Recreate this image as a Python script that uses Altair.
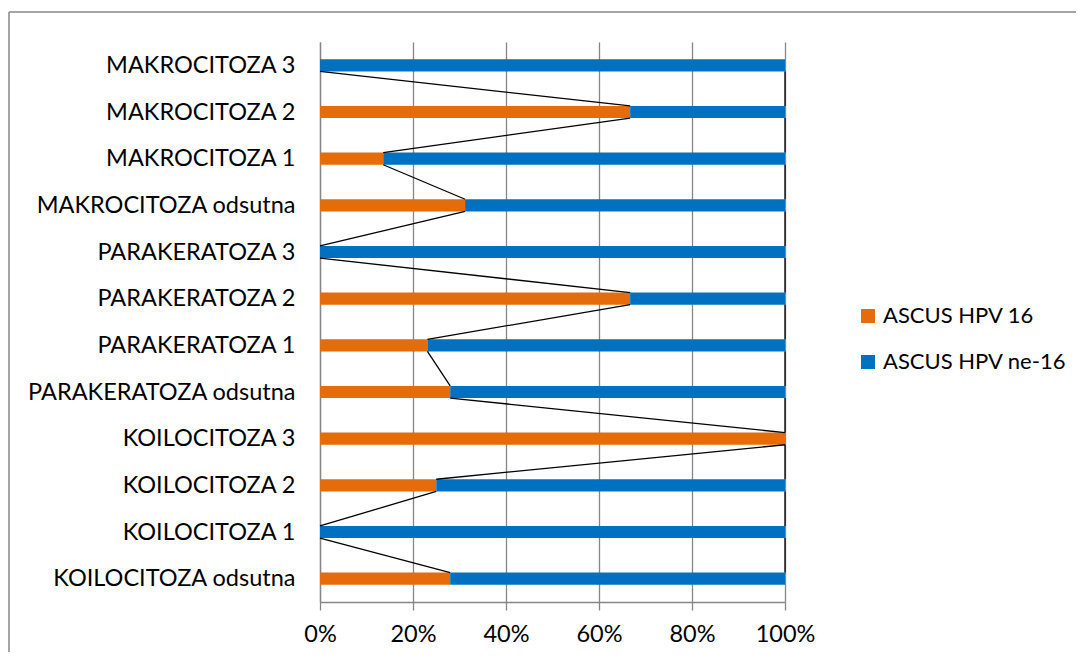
import json
import altair as alt
import pandas as pd

categories = [
    "KOILOCITOZA odsutna", "KOILOCITOZA 1", "KOILOCITOZA 2", "KOILOCITOZA 3",
    "PARAKERATOZA odsutna", "PARAKERATOZA 1", "PARAKERATOZA 2", "PARAKERATOZA 3",
    "MAKROCITOZA odsutna", "MAKROCITOZA 1", "MAKROCITOZA 2", "MAKROCITOZA 3",
]
hpv16 = [28.0, 0.0, 25.0, 100.0, 28.0, 23.1, 66.7, 0.0, 31.2, 13.6, 66.7, 0.0]
hpv_ne16 = [72.0, 100.0, 75.0, 0.0, 72.0, 76.9, 33.3, 100.0, 68.8, 86.4, 33.3, 100.0]
series_names = ["ASCUS HPV 16", "ASCUS HPV ne-16"]
series_colors = ["#E46C0A", "#0070C0"]
x_ticks = [0, 20, 40, 60, 80, 100]

FONT = "Lato"
FS = 23.5
GRID = "#868686"
half = 0.13

pct = [a / (a + b) * 100 for a, b in zip(hpv16, hpv_ne16)]

bar_rows = []
for i, p in enumerate(pct):
    bar_rows.append(dict(series=series_names[0], x=0.0, x2=p, y=i - half, y2=i + half))
    bar_rows.append(dict(series=series_names[1], x=p, x2=100.0, y=i - half, y2=i + half))
bars_df = pd.DataFrame(bar_rows)

line_rows = []
for i in range(len(categories) - 1):
    line_rows.append(dict(x=pct[i], x2=pct[i + 1], y=i + half, y2=i + 1 - half))
    line_rows.append(dict(x=100.0, x2=100.0, y=i + half, y2=i + 1 - half))
lines_df = pd.DataFrame(line_rows)

x_scale = alt.Scale(domain=[0, 100], nice=False)
y_scale = alt.Scale(domain=[-0.5, len(categories) - 0.5], nice=False, zero=False)

label_expr = json.dumps(categories) + "[datum.value]"

x_axis = alt.Axis(
    values=x_ticks, labelExpr="datum.value + '%'", grid=True, gridColor=GRID,
    gridWidth=1.3, domainColor=GRID, domainWidth=1.3, tickColor=GRID, tickWidth=1.3,
    tickSize=8, labelFont=FONT, labelFontSize=FS, labelColor="black",
    labelPadding=12, labelFlush=False, labelOverlap=False, title=None,
)
y_axis = alt.Axis(
    values=list(range(len(categories))), labelExpr=label_expr, grid=False,
    ticks=False, domainColor=GRID, domainWidth=1.3, labelFont=FONT,
    labelFontSize=FS, labelColor="black", labelPadding=25, labelLimit=500,
    labelOverlap=False, title=None,
)

bars = alt.Chart(bars_df).mark_rect().encode(
    x=alt.X("x:Q", scale=x_scale, axis=x_axis),
    x2="x2:Q",
    y=alt.Y("y:Q", scale=y_scale, axis=y_axis),
    y2="y2:Q",
    color=alt.Color(
        "series:N",
        scale=alt.Scale(domain=series_names, range=series_colors),
        legend=alt.Legend(
            title=None, orient="none", legendX=537, legendY=263,
            symbolType="square", symbolSize=196, symbolStrokeWidth=0,
            labelFont=FONT, labelFontSize=22, labelColor="black",
            labelOffset=4, rowPadding=24, padding=0, labelLimit=400,
        ),
    ),
)

series_lines = alt.Chart(lines_df).mark_rule(color="black", strokeWidth=1.3).encode(
    x="x:Q", x2="x2:Q", y="y:Q", y2="y2:Q",
)

dummy = pd.DataFrame({"k": [0]})
frame_top = alt.Chart(dummy).mark_rule(color=GRID, strokeWidth=1.5).encode(
    x=alt.value(-311), x2=alt.value(1200), y=alt.value(-30),
)
frame_left = alt.Chart(dummy).mark_rule(color=GRID, strokeWidth=1.5).encode(
    x=alt.value(-311), y=alt.value(-30), y2=alt.value(900),
)

chart = alt.layer(frame_top, frame_left, bars, series_lines).properties(
    width=465, height=560, autosize="none",
    padding={"left": 312, "top": 34, "right": 291, "bottom": 50},
).configure_view(strokeWidth=0)

chart.save("out.html", embed_options={"renderer": "svg", "actions": False})
